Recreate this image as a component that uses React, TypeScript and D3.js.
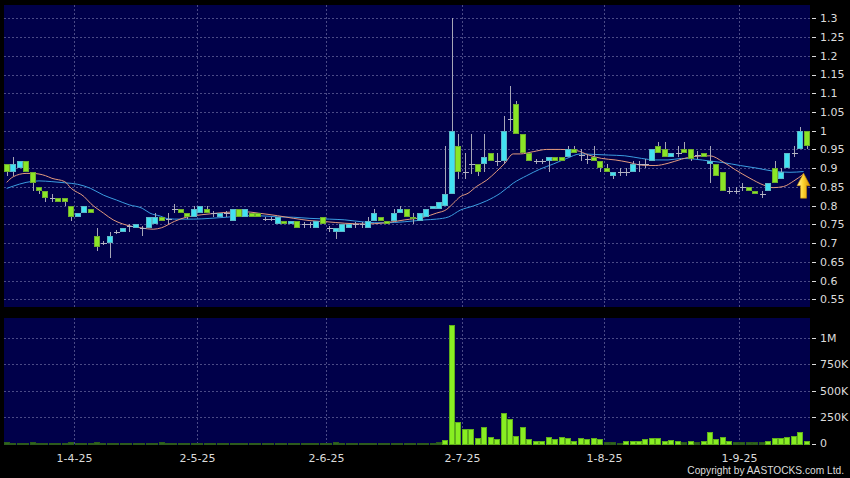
import React, { useEffect } from 'react';
import * as d3 from 'd3';

// ---------- DATA ----------
const dates = [
  '17-3-25','18-3-25','19-3-25','20-3-25','21-3-25','24-3-25','25-3-25','26-3-25','27-3-25','28-3-25','31-3-25',
  '1-4-25','2-4-25','3-4-25','7-4-25','8-4-25','9-4-25','10-4-25','11-4-25','14-4-25','15-4-25','16-4-25','17-4-25','22-4-25','23-4-25','24-4-25','25-4-25','28-4-25','29-4-25','30-4-25',
  '2-5-25','6-5-25','7-5-25','8-5-25','9-5-25','12-5-25','13-5-25','14-5-25','15-5-25','16-5-25','19-5-25','20-5-25','21-5-25','22-5-25','23-5-25','26-5-25','27-5-25','28-5-25','29-5-25','30-5-25',
  '2-6-25','3-6-25','4-6-25','5-6-25','6-6-25','9-6-25','10-6-25','11-6-25','12-6-25','13-6-25','16-6-25','17-6-25','18-6-25','19-6-25','20-6-25','23-6-25','24-6-25','25-6-25','26-6-25','27-6-25','30-6-25',
  '2-7-25','3-7-25','4-7-25','7-7-25','8-7-25','9-7-25','10-7-25','11-7-25','14-7-25','15-7-25','16-7-25','17-7-25','18-7-25','21-7-25','22-7-25','23-7-25','24-7-25','25-7-25','28-7-25','29-7-25','30-7-25','31-7-25',
  '1-8-25','4-8-25','5-8-25','6-8-25','7-8-25','8-8-25','11-8-25','12-8-25','13-8-25','14-8-25','15-8-25','18-8-25','19-8-25','20-8-25','21-8-25','22-8-25','25-8-25','26-8-25','27-8-25','28-8-25','29-8-25',
  '1-9-25','2-9-25','3-9-25','4-9-25','5-9-25','8-9-25','9-9-25','10-9-25','11-9-25','12-9-25','15-9-25',
];

const opens = [
  .91,.89,.90,.92,.89,.85,.84,.82,.82,.82,
  .80,.77,.78,.79,.72,.70,.70,.73,.73,.745,
  .74,.74,.74,.75,.77,.765,.79,.79,.78,.77,
  .78,.79,.78,.77,.78,.76,.79,.77,.78,.78,
  .765,.765,.75,.76,.75,.76,.75,.75,.74,.77,
  .74,.73,.73,.74,.75,.75,.74,.76,.77,.76,
  .76,.78,.79,.77,.76,.77,.79,.79,.80,.83,
  .96,.89,.91,.91,.91,.94,.92,.92,1.03,1.07,
  .99,.94,.92,.92,.92,.93,.93,.93,.95,.935,
  .925,.93,.92,.90,.88,.89,.89,.89,.91,.91,
  .92,.96,.95,.93,.94,.95,.95,.935,.94,.91,
  .91,.89,.84,.84,.85,.85,.84,.83,.84,.90,
  .87,.90,.94,.95,1.00,
];
const highs = [
  .91,.93,.92,.92,.89,.85,.84,.83,.82,.82,
  .80,.78,.80,.79,.74,.705,.73,.735,.74,.75,
  .75,.745,.77,.78,.77,.78,.805,.79,.78,.80,
  .80,.80,.785,.78,.785,.79,.79,.79,.78,.78,
  .77,.77,.77,.76,.76,.76,.755,.755,.76,.77,
  .745,.74,.75,.75,.755,.755,.77,.79,.77,.76,
  .79,.80,.79,.78,.78,.79,.80,.81,.96,1.30,
  .99,.94,.99,.91,.99,.94,.94,1.04,1.12,1.08,
  .99,.94,.925,.925,.93,.93,.93,.96,.96,.95,
  .935,.96,.92,.91,.89,.90,.90,.92,.92,.925,
  .95,.97,.97,.94,.96,.97,.95,.945,.94,.96,
  .91,.89,.85,.85,.86,.85,.84,.84,.86,.92,
  .90,.94,.96,1.01,1.00,
];
const lows = [
  .88,.88,.90,.89,.84,.83,.81,.81,.81,.80,
  .76,.77,.78,.78,.68,.695,.66,.725,.73,.73,
  .74,.72,.74,.75,.76,.75,.78,.78,.765,.77,
  .78,.78,.77,.77,.77,.76,.77,.77,.77,.77,
  .76,.76,.75,.75,.75,.74,.74,.74,.74,.75,
  .73,.71,.73,.74,.74,.74,.74,.76,.76,.75,
  .76,.78,.77,.75,.76,.77,.79,.79,.80,.83,
  .87,.87,.885,.88,.89,.92,.905,.91,1.00,.99,
  .94,.92,.91,.91,.89,.92,.92,.93,.94,.92,
  .91,.92,.89,.89,.87,.88,.88,.89,.89,.90,
  .92,.94,.93,.93,.93,.94,.92,.925,.93,.86,
  .88,.84,.83,.83,.84,.84,.83,.82,.84,.86,
  .87,.90,.93,.95,.95,
];
const closes = [
  .89,.91,.92,.89,.86,.84,.82,.82,.81,.81,
  .77,.78,.80,.78,.69,.70,.72,.73,.74,.745,
  .75,.74,.77,.77,.76,.765,.79,.78,.77,.79,
  .80,.78,.78,.78,.78,.79,.77,.79,.77,.77,
  .765,.765,.77,.75,.76,.74,.75,.75,.76,.75,
  .74,.74,.75,.75,.75,.75,.76,.78,.76,.75,
  .78,.79,.77,.765,.78,.79,.80,.81,.83,1.00,
  .89,.89,.91,.89,.93,.92,.92,1.00,1.03,.99,
  .94,.92,.92,.92,.93,.92,.92,.95,.94,.935,
  .925,.92,.90,.89,.89,.89,.89,.91,.91,.91,
  .95,.94,.93,.94,.94,.94,.925,.935,.93,.92,
  .88,.84,.84,.84,.85,.84,.83,.83,.86,.86,
  .89,.94,.94,1.00,.96,
];
// volume in thousands of shares
const volumes = [
  12,8,3,5,10,3,4,2,6,4,
  10,4,3,8,12,3,8,2,3,2,
  4,2,6,3,10,4,2,7,3,2,
  1,2,1,2,1,3,2,1,2,1,
  8,1,2,1,1,2,1,1,1,2,
  1,10,3,2,1,1,2,3,1,2,
  4,3,5,4,3,6,3,10,33,1123,
  207,137,137,55,153,59,43,292,232,71,
  153,43,27,27,65,40,62,49,27,49,
  43,49,43,17,17,8,25,27,27,45,
  50,48,28,30,28,18,20,18,22,108,
  45,62,20,18,15,15,12,15,20,50,
  55,62,75,108,25,
];

// 10-day moving average (orange) at candle positions
const ma10At = [0,1,3,4,6,7,9,10,12,13,15,16.5,18,19.6,21,22.7,24,26,28,29,31.5,34,36.7,39,42,44.5,47,49.6,52.4,55.5,58.6,61.7,64.8,66.6,68.2,69.2,70.3,71.5,72.8,74.4,75.9,77.2,78.5,79.6,81.6,83.7,85.8,88.3,90.2,92.2,94.3,96.3,98.4,100.5,102.5,104.6,106.4,109,111,113,115.2,117.3,118.8,120.4,122,123.5];
const ma10Val = [.862,.877,.886,.886,.880,.873,.864,.846,.824,.806,.780,.762,.751,.744,.740,.737,.741,.758,.770,.773,.778,.782,.784,.780,.773,.766,.760,.757,.753,.751,.754,.762,.770,.780,.790,.806,.824,.833,.851,.868,.891,.913,.938,.938,.944,.950,.950,.947,.935,.926,.922,.916,.908,.907,.913,.924,.931,.933,.917,.895,.873,.855,.848,.851,.866,.884];
// 20-day moving average (blue)
const ma20At = [0,1,3,5,7,9,11,13,15,17,19,21,22.2,23.8,25,26,29,31.5,34,37,39,42,44.5,47,50,52.4,55.5,58.6,61.7,64.8,66.6,68.5,70.3,72.3,74.4,76.5,78.5,80.6,82.6,84.7,86.8,88.9,90.7,93.3,95.8,98.4,100.5,102.5,104.6,106.7,109,111,113.7,116.3,118.8,121.4,123.5];
const ma20Val = [.846,.852,.862,.866,.864,.861,.857,.846,.828,.815,.802,.793,.780,.772,.765,.764,.764,.766,.769,.773,.773,.770,.769,.766,.764,.762,.756,.754,.757,.762,.764,.770,.788,.799,.813,.833,.860,.880,.897,.911,.926,.938,.937,.935,.933,.926,.922,.922,.926,.924,.919,.915,.907,.900,.892,.889,.891];

const priceTicks = [0.55,0.6,0.65,0.7,0.75,0.8,0.85,0.9,0.95,1,1.05,1.1,1.15,1.2,1.25,1.3];
const priceTickLabels = ['0.55','0.6','0.65','0.7','0.75','0.8','0.85','0.9','0.95','1','1.05','1.1','1.15','1.2','1.25','1.3'];
const volTicks = [0,250,500,750,1000];
const volTickLabels = ['0','250K','500K','750K','1M'];
const monthTicks = ['1-4-25','2-5-25','2-6-25','2-7-25','1-8-25','1-9-25'];

// ---------- LAYOUT ----------
const W = 850, H = 478;
const PL = 4, PR = 810;
const MT = 5, MB = 307;
const VT = 318, VB = 445;
const FONT = '"DejaVu Sans", Verdana, sans-serif';
const GRID = '#4a4a86';
const TXT = '#dcdcdc';

export default function App() {
  useEffect(() => {
    document.body.style.margin = '0';
    document.body.style.background = '#000';
  }, []);

  const n = dates.length;
  const x = d3.scaleLinear().domain([-0.42, n - 0.5]).range([PL, PR]);
  const y = d3.scaleLinear().domain([0.55, 1.3]).range([299.3, 18.3]);
  const yv = d3.scaleLinear().domain([0, 1000]).range([443.5, 338]);

  const ma10Line = d3.line<number>()
    .x((_, i) => x(ma10At[i]))
    .y((d) => y(d))
    .curve(d3.curveMonotoneX)(ma10Val) || '';
  const ma20Line = d3.line<number>()
    .x((_, i) => x(ma20At[i]))
    .y((d) => y(d))
    .curve(d3.curveMonotoneX)(ma20Val) || '';

  const monthIdx = monthTicks.map((m) => dates.indexOf(m));
  const gx = (i: number) => Math.round(x(i - 0.5)) + 0.5;

  // arrow anchored on the end of the 10-day average
  const ax = x(ma10At[ma10At.length - 1]);
  const ay = y(ma10Val[ma10Val.length - 1]);

  return (
    <svg width={W} height={H} style={{ position: 'fixed', left: 0, top: 0, display: 'block' }}
      xmlns="http://www.w3.org/2000/svg">
      <defs>
        <linearGradient id="arrowG" x1="0" y1="0" x2="1" y2="0">
          <stop offset="0" stopColor="#fff4a8" />
          <stop offset="0.45" stopColor="#ffd633" />
          <stop offset="1" stopColor="#d99000" />
        </linearGradient>
        <clipPath id="mainClip"><rect x={PL} y={MT} width={PR - PL} height={MB - MT} /></clipPath>
      </defs>
      <rect x={0} y={0} width={W} height={H} fill="#000" />
      {/* panels */}
      <rect x={PL} y={MT} width={PR - PL} height={MB - MT} fill="#00004a" />
      <rect x={PL} y={VT} width={PR - PL} height={VB - VT} fill="#00004a" />

      {/* price grid */}
      <g shapeRendering="crispEdges">
        {priceTicks.map((t) => (
          <line key={'pg' + t} x1={PL} x2={PR} y1={Math.round(y(t)) + 0.5} y2={Math.round(y(t)) + 0.5}
            stroke={GRID} strokeDasharray="2,2" />
        ))}
        {monthIdx.map((i) => (
          <line key={'vg' + i} x1={gx(i)} x2={gx(i)} y1={MT} y2={MB} stroke={GRID} strokeDasharray="2,2" />
        ))}
        {volTicks.filter((t) => t > 0).map((t) => (
          <line key={'vgh' + t} x1={PL} x2={PR} y1={Math.round(yv(t)) + 0.5} y2={Math.round(yv(t)) + 0.5}
            stroke={GRID} strokeDasharray="2,2" />
        ))}
        {monthIdx.map((i) => (
          <line key={'vvg' + i} x1={gx(i)} x2={gx(i)} y1={VT} y2={VB} stroke={GRID} strokeDasharray="2,2" />
        ))}
      </g>

      {/* moving averages */}
      <g clipPath="url(#mainClip)">
        <path d={ma20Line} fill="none" stroke="#3b9de0" strokeWidth={1} />
        <path d={ma10Line} fill="none" stroke="#e39a7e" strokeWidth={1} />
      </g>

      {/* candles */}
      <g shapeRendering="crispEdges">
        {dates.map((dt, i) => {
          const cx = Math.round(x(i));
          const o = opens[i], c = closes[i];
          const wick = (
            <line x1={cx + 0.5} x2={cx + 0.5} y1={y(highs[i])} y2={y(lows[i])} stroke="#a6a6b6" />
          );
          if (o === c) {
            const yy = Math.round(y(o)) + 0.5;
            return (
              <g key={dt}>
                {wick}
                <line x1={cx - 2.5} x2={cx + 3.5} y1={yy} y2={yy} stroke="#b4b4c4" />
              </g>
            );
          }
          const up = c > o;
          const top = Math.round(y(Math.max(o, c)));
          const bot = Math.round(y(Math.min(o, c)));
          return (
            <g key={dt}>
              {wick}
              <rect x={cx - 2.5} y={top + 0.5} width={5} height={Math.max(1, bot - top - 1)}
                fill={up ? '#42e2f2' : '#8ae626'} stroke={up ? '#5cb8c8' : '#6fae2e'} />
            </g>
          );
        })}
      </g>

      {/* arrow */}
      <path
        d={`M${ax},${ay - 1} L${ax + 6.5},${ay + 11.5} L${ax + 3},${ay + 11.5} L${ax + 3},${ay + 24} L${ax - 3},${ay + 24} L${ax - 3},${ay + 11.5} L${ax - 6.5},${ay + 11.5} Z`}
        fill="url(#arrowG)" stroke="#c98a00" strokeWidth={0.6} />

      {/* volume bars */}
      <g shapeRendering="crispEdges">
        {volumes.map((v, i) => {
          const cx = Math.round(x(i));
          const top = Math.round(yv(v));
          const base = Math.round(yv(0));
          const tiny = base - top < 3;
          return (
            <rect key={'v' + i} x={cx - 2.5} y={top + 0.5} width={5} height={Math.max(0.5, base - top)}
              fill={tiny ? '#2f6a1a' : '#88ee22'} stroke={tiny ? '#2c5a1c' : '#5fae1c'} />
          );
        })}
      </g>

      {/* right axis */}
      <g fontFamily={FONT} fontSize={11} fill={TXT}>
        {priceTicks.map((t, k) => (
          <g key={'pl' + t}>
            <line x1={812} x2={816} y1={Math.round(y(t)) + 0.5} y2={Math.round(y(t)) + 0.5} stroke={TXT}
              shapeRendering="crispEdges" />
            <text x={820} y={y(t)} dy="0.36em">{priceTickLabels[k]}</text>
          </g>
        ))}
        {volTicks.map((t, k) => (
          <g key={'vl' + t}>
            <line x1={812} x2={816} y1={Math.round(yv(t)) + 0.5} y2={Math.round(yv(t)) + 0.5} stroke={TXT}
              shapeRendering="crispEdges" />
            <text x={820} y={yv(t)} dy="0.36em">{volTickLabels[k]}</text>
          </g>
        ))}
        {monthIdx.map((i, k) => (
          <text key={'ml' + i} x={gx(i)} y={461.5} textAnchor="middle">{monthTicks[k]}</text>
        ))}
        <text x={844} y={474} textAnchor="end" fontFamily='"Liberation Sans", Arial, sans-serif' fontSize={10.2}>
          Copyright by AASTOCKS.com Ltd.
        </text>
      </g>
    </svg>
  );
}
